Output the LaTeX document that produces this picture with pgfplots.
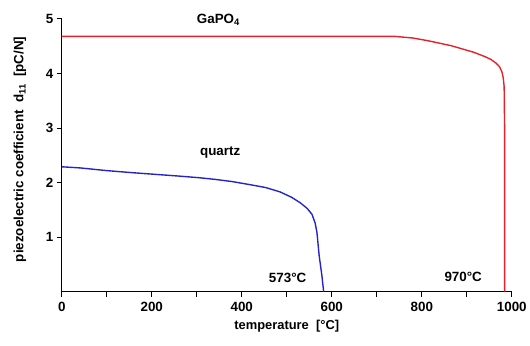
\documentclass[border=0pt]{standalone}
\usepackage{fontspec}
\setmainfont{Liberation Sans}
\usepackage{pgfplots}
\pgfplotsset{compat=1.18}
\definecolor{gared}{RGB}{232,32,40}
\definecolor{qblue}{RGB}{36,36,200}
\begin{document}
\begin{tikzpicture}
\begin{axis}[
  scale only axis,
  width=452bp, height=274bp,
  xmin=0, xmax=1000, ymin=0, ymax=5,
  axis x line=bottom, axis y line=left,
  axis line style={-, line width=1.3pt},
  xtick={0,200,...,1000},
  minor xtick={100,300,...,900},
  ytick={1,2,3,4,5},
  tick align=outside,
  major tick length=5bp, minor tick length=5bp,
  every tick/.style={black, line width=1.1pt},
  /pgf/number format/assume math mode=true,
  /pgf/number format/1000 sep={},
  ticklabel style={font=\bfseries\fontsize{13.5}{15}\selectfont},
  xticklabel style={yshift=-2bp},
  xlabel={temperature\ \ [\textdegree C]},
  ylabel={piezoelectric coefficient\ \ d\textsubscript{11}\ \ [pC/N]},
  xlabel style={font=\bfseries\fontsize{13}{15}\selectfont, at={(axis description cs:0.5,0)}, anchor=center, yshift=-35bp},
  ylabel style={font=\bfseries\fontsize{13.5}{15}\selectfont, at={(axis description cs:0,0.5)}, anchor=center, yshift=42bp, xshift=6bp},
  clip=false,
]
\addplot[gared, line width=1.4pt] coordinates {
 (0,4.68) (740,4.68) (780,4.65) (814,4.60) (865,4.51) (915,4.39) (940,4.31) (953,4.26) (965,4.19) (973,4.12) (978,4.03) (981,3.92) (983,3.76) (984,3.0) (984,0)
};
\addplot[qblue, line width=1.4pt] coordinates {
 (0,2.29) (40,2.27) (100,2.22) (160,2.18) (210,2.15) (260,2.12) (305,2.09) (340,2.06) (378,2.02) (420,1.96) (453,1.91) (485,1.83) (511,1.73) (530,1.63) (545,1.53) (556,1.42) (563,1.26) (567,1.09) (572,0.66) (578,0.30) (582,0)
};
\node[font=\bfseries\fontsize{13.5}{15}\selectfont] at (axis cs:348,4.98) {GaPO\textsubscript{4}};
\node[font=\bfseries\fontsize{13.5}{15}\selectfont] at (axis cs:352,2.55) {quartz};
\node[font=\bfseries\fontsize{13.5}{15}\selectfont] at (axis cs:502,0.26) {573\textdegree C};
\node[font=\bfseries\fontsize{13.5}{15}\selectfont] at (axis cs:892,0.27) {970\textdegree C};
\end{axis}
\path[use as bounding box] ([xshift=-62bp,yshift=-54bp]current axis.south west) rectangle ([xshift=16bp,yshift=19bp]current axis.north east);
\end{tikzpicture}
\end{document}
